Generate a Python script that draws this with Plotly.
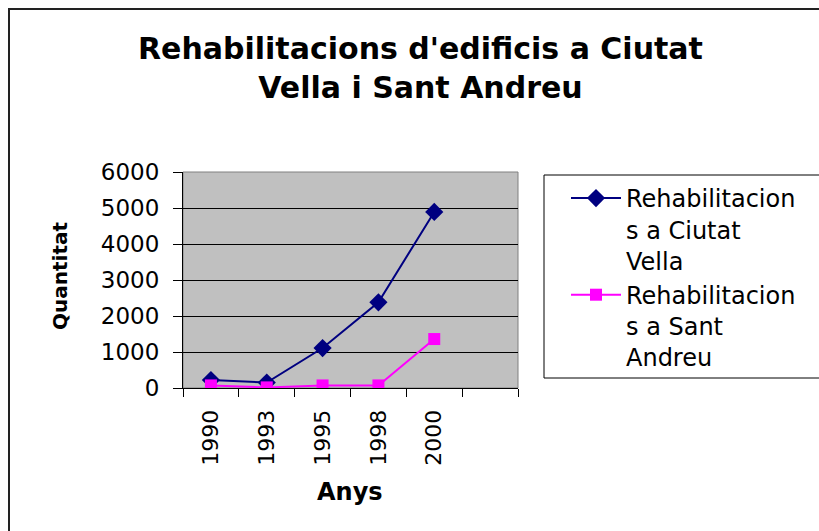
import plotly.graph_objects as go

years = ["1990", "1993", "1995", "1998", "2000"]
slots = years + [" "]  # Excel axis shows one empty category slot at the end
ciutat_vella = [220, 150, 1110, 2380, 4890]
sant_andreu = [72, 17, 72, 72, 1360]
name_cv = "Rehabilitacion<br>s a Ciutat<br>Vella"
name_sa = "Rehabilitacion<br>s a Sant<br>Andreu"
y_ticks = [0, 1000, 2000, 3000, 4000, 5000, 6000]
title_text = "Rehabilitacions d'edificis a Ciutat<br>Vella i Sant Andreu"

W, H = 819, 531
L, R, T, B = 183, 518, 172, 388


def px(x):
    return (x - L) / (R - L)


def py(y):
    return (B - y) / (B - T)


FONT = "DejaVu Sans"

fig = go.Figure()
fig.add_trace(go.Scatter(
    x=years, y=ciutat_vella, name=name_cv, mode="lines+markers",
    line=dict(color="#000080", width=2),
    marker=dict(symbol="diamond", size=14, color="#000080"),
))
fig.add_trace(go.Scatter(
    x=years, y=sant_andreu, name=name_sa, mode="lines+markers",
    line=dict(color="#FF00FF", width=2),
    marker=dict(symbol="square", size=12, color="#FF00FF"),
))

fig.update_layout(
    width=W, height=H,
    margin=dict(l=L, r=W - R, t=T, b=H - B, pad=0),
    paper_bgcolor="white",
    plot_bgcolor="#C0C0C0",
    font=dict(family=FONT, color="black"),
    showlegend=True,
    legend=dict(
        x=px(566), xanchor="left", y=py(176), yanchor="top",
        font=dict(family=FONT, size=24, color="black"),
        bgcolor="rgba(0,0,0,0)", borderwidth=0,
        valign="top", itemwidth=50, tracegroupgap=0,
    ),
    xaxis=dict(
        type="category", categoryarray=slots, categoryorder="array",
        range=[-0.5, len(slots) - 0.5],
        tickson="boundaries", ticks="outside", ticklen=8, tickwidth=1,
        tickcolor="black", showline=True, linecolor="black", linewidth=1,
        showgrid=False, tickangle=-90, ticklabelstandoff=12,
        tickfont=dict(family=FONT, size=22, color="black"),
        zeroline=False,
    ),
    yaxis=dict(
        range=[0, 6000], tickvals=y_ticks, ticks="outside", ticklen=9,
        tickwidth=1, tickcolor="black", showline=True, linecolor="black",
        linewidth=1, showgrid=True, gridcolor="black", gridwidth=1,
        zeroline=False, ticklabelstandoff=9,
        tickfont=dict(family=FONT, size=23, color="black"),
    ),
    annotations=[
        dict(text=title_text, xref="paper", yref="paper", x=px(420), y=py(68),
             xanchor="center", yanchor="middle", showarrow=False,
             font=dict(family=FONT, size=30, color="black", weight="bold")),
        dict(text="Anys", xref="paper", yref="paper", x=px(350), y=py(492),
             xanchor="center", yanchor="middle", showarrow=False,
             font=dict(family=FONT, size=24, color="black", weight="bold")),
        dict(text="Quantitat", xref="paper", yref="paper", x=px(60), y=py(276),
             xanchor="center", yanchor="middle", showarrow=False, textangle=-90,
             font=dict(family=FONT, size=20, color="black", weight="bold")),
    ],
    shapes=[
        # plot area frame (grey top/right edges)
        dict(type="rect", xref="paper", yref="paper", x0=0, x1=1, y0=0, y1=1,
             line=dict(color="#808080", width=1), layer="below"),
        # legend frame (runs off the right edge, as in the reference)
        dict(type="rect", xref="paper", yref="paper", x0=px(544), x1=px(900),
             y0=py(378), y1=py(175), line=dict(color="black", width=1)),
        # chart outer border (runs off the right and bottom edges)
        dict(type="rect", xref="paper", yref="paper", x0=px(9), x1=px(900),
             y0=py(580), y1=py(9), line=dict(color="#222222", width=2)),
    ],
)

fig.write_html("out.html", config={"displayModeBar": False},
               post_script="document.body.style.margin='0';")
